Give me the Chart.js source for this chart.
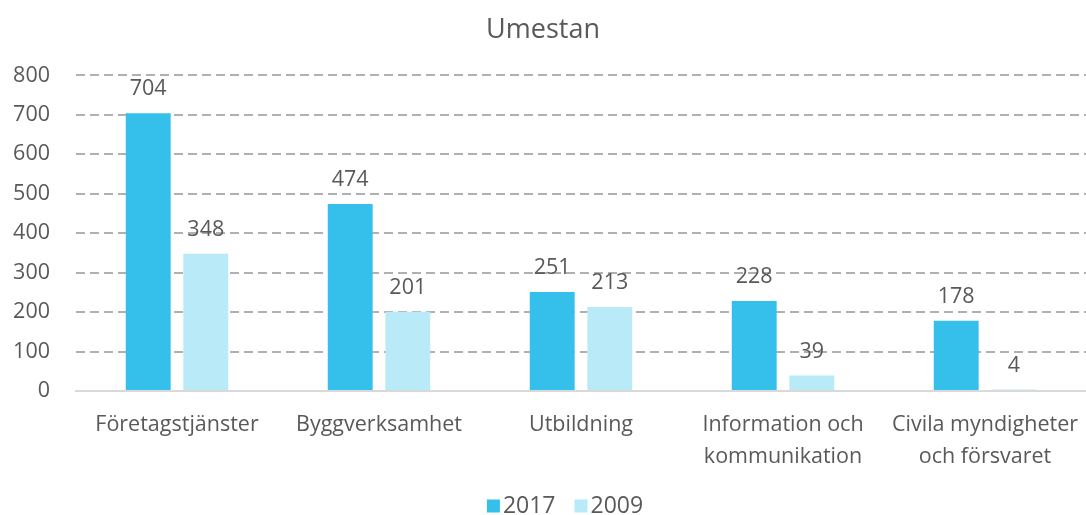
<!DOCTYPE html>
<html>
<head>
<meta charset="utf-8">
<script src="https://cdn.jsdelivr.net/npm/chart.js@4"></script>
<style>
  html, body { margin: 0; padding: 0; background: #fff; }
  #wrap { width: 1086px; height: 515px; }
</style>
</head>
<body>
<div id="wrap"><canvas id="myChart"></canvas></div>
<script>
const categories = [
    "Företagstjänster",
    "Byggverksamhet",
    "Utbildning",
    ["Information och", "kommunikation"],
    ["Civila myndigheter", "och försvaret"],
];
const values2017 = [704, 474, 251, 228, 178];
const values2009 = [348, 201, 213, 39, 4];
const yTicks = [0, 100, 200, 300, 400, 500, 600, 700, 800];

const textColor = "#595959";
const fontFamily = "'Open Sans', Lato, sans-serif";
const fontSize = 21.5;

// draws the value above every bar
const valueLabels = {
    id: "valueLabels",
    afterDatasetsDraw(chart) {
        const c = chart.ctx;
        c.save();
        c.fillStyle = textColor;
        c.font = fontSize + "px " + fontFamily;
        c.textAlign = "center";
        c.textBaseline = "middle";
        chart.data.datasets.forEach((ds, i) => {
            chart.getDatasetMeta(i).data.forEach((bar, j) => {
                c.fillText(ds.data[j], bar.x, bar.y - 24);
            });
        });
        c.restore();
    },
};

// legend drawn by hand so the box sits close to its text
const bottomLegend = {
    id: "bottomLegend",
    afterDraw(chart) {
        const c = chart.ctx;
        c.save();
        c.font = "23px " + fontFamily;
        c.textBaseline = "middle";
        const y = 506;
        const box = 13, gap = 3, between = 19;
        const items = chart.data.datasets.map((ds) => ({
            text: ds.label,
            color: ds.backgroundColor,
            w: box + gap + c.measureText(ds.label).width,
        }));
        const total = items.reduce((s, it) => s + it.w, 0) + between * (items.length - 1);
        let x = 565 - total / 2;
        items.forEach((it) => {
            c.fillStyle = it.color;
            c.fillRect(x, y - box / 2, box, box);
            c.fillStyle = textColor;
            c.fillText(it.text, x + box + gap, y);
            x += it.w + between;
        });
        c.restore();
    },
};

const ctx = document.getElementById("myChart");

new Chart(ctx, {
    type: "bar",
    data: {
        labels: categories,
        datasets: [
            {
                label: "2017",
                data: values2017,
                backgroundColor: "#35C0EC",
            },
            {
                label: "2009",
                data: values2009,
                backgroundColor: "#B8EAF8",
            },
        ],
    },
    plugins: [valueLabels, bottomLegend],
    options: {
        responsive: true,
        maintainAspectRatio: false,
        animation: false,
        categoryPercentage: 0.57,
        barPercentage: 0.78,
        layout: { padding: { left: 0, right: 0, top: 0, bottom: 46 } },
        plugins: {
            title: {
                display: true,
                text: "Umestan",
                color: textColor,
                font: { family: fontFamily, size: 27, weight: "normal" },
                padding: { top: 14, bottom: 29 },
            },
            legend: { display: false },
            tooltip: { enabled: false },
        },
        scales: {
            x: {
                afterFit(axis) {
                    axis.height = 78;
                    axis.paddingLeft = 0;
                    axis.paddingRight = 0;
                },
                grid: { display: false },
                border: { display: true, color: "#d9d9d9", width: 2 },
                ticks: {
                    color: textColor,
                    font: { family: fontFamily, size: fontSize, lineHeight: 1.49 },
                    maxRotation: 0,
                    autoSkip: false,
                    padding: 10,
                },
            },
            y: {
                min: 0,
                max: 800,
                afterBuildTicks(axis) {
                    axis.ticks = yTicks.map((v) => ({ value: v }));
                },
                afterFit(axis) {
                    axis.width = 76;
                },
                grid: {
                    color: (c) => (c.tick && c.tick.value === 0 ? "rgba(0,0,0,0)" : "#b0b0b0"),
                    lineWidth: 2,
                    drawTicks: false,
                },
                border: { display: false, dash: [9, 5] },
                ticks: {
                    color: textColor,
                    font: { family: fontFamily, size: fontSize },
                    padding: 26,
                },
            },
        },
    },
});
</script>
</body>
</html>
